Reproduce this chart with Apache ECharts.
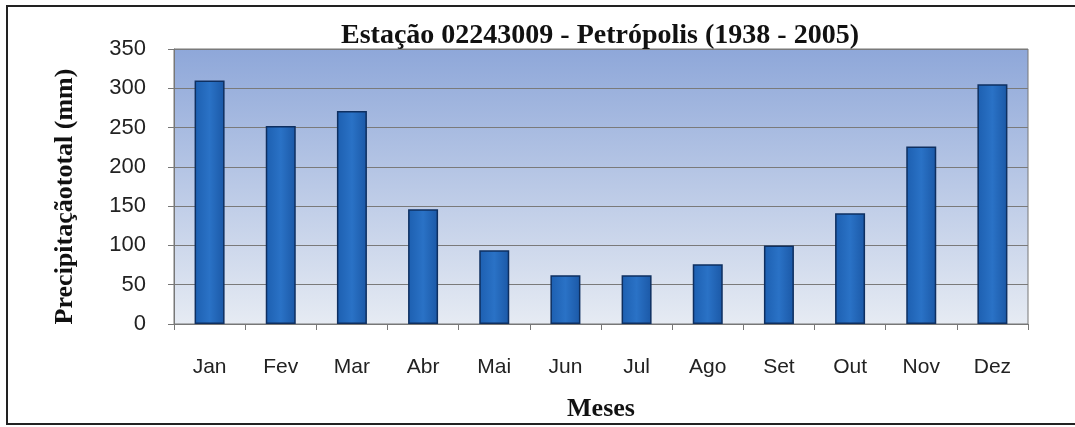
<!DOCTYPE html>
<html>
<head>
<meta charset="utf-8">
<script src="https://cdn.jsdelivr.net/npm/echarts@6/dist/echarts.min.js"></script>
<style>
  html, body { margin: 0; padding: 0; background: #fff; }
  #chart { width: 1075px; height: 427px; }
</style>
</head>
<body>
<div id="chart"></div>
<script>
'use strict'

const months = ['Jan', 'Fev', 'Mar', 'Abr', 'Mai', 'Jun', 'Jul', 'Ago', 'Set', 'Out', 'Nov', 'Dez'];
const rainfall = [310, 252, 271, 146, 94, 62, 62, 76, 100, 141, 226, 305];
const yTicks = [0, 350, 50]; // min, max, step

const chart = echarts.init(document.getElementById('chart'));

chart.setOption({
  animation: false,
  backgroundColor: '#fff',
  title: {
    text: 'Estação 02243009 - Petrópolis (1938 - 2005)',
    left: 595,
    textAlign: 'center',
    top: 17,
    textStyle: { fontFamily: 'Liberation Serif', fontWeight: 'bold', fontSize: 28, color: '#111' }
  },
  graphic: [{
    type: 'rect',
    shape: { x: 7, y: 6, width: 1100, height: 418 },
    style: { fill: 'none', stroke: '#222', lineWidth: 2 },
    z: 100
  }],
  grid: {
    left: 174, right: 47, top: 49, bottom: 103,
    outerBoundsMode: 'none',
    show: true,
    borderColor: '#777',
    borderWidth: 1,
    backgroundColor: new echarts.graphic.LinearGradient(0, 0, 0, 1, [
      { offset: 0, color: '#8ea7d9' },
      { offset: 0.5, color: '#bac9e6' },
      { offset: 1, color: '#e6ebf3' }
    ])
  },
  xAxis: {
    type: 'category',
    data: months,
    name: 'Meses',
    nameLocation: 'middle',
    nameGap: 72,
    nameTextStyle: { fontFamily: 'Liberation Serif', fontWeight: 'bold', fontSize: 26, color: '#111' },
    axisLine: { lineStyle: { color: '#777' } },
    axisTick: { show: true, length: 6, alignWithLabel: false, lineStyle: { color: '#777' } },
    axisLabel: { margin: 33, fontFamily: 'Liberation Sans', fontSize: 21, color: '#222' }
  },
  yAxis: {
    type: 'value',
    min: yTicks[0],
    max: yTicks[1],
    interval: yTicks[2],
    name: 'Precipitaçãototal (mm)',
    nameLocation: 'middle',
    nameGap: 96,
    nameTextStyle: { fontFamily: 'Liberation Serif', fontWeight: 'bold', fontSize: 26, color: '#111', padding: [0, 20, 0, 0] },
    axisLine: { show: true, lineStyle: { color: '#777' } },
    axisTick: { show: true, length: 6, lineStyle: { color: '#777' } },
    axisLabel: { margin: 28, fontFamily: 'Liberation Sans', fontSize: 22, color: '#222' },
    splitLine: { lineStyle: { color: '#7a7a7a', width: 1 } }
  },
  series: [{
    type: 'bar',
    data: rainfall,
    barWidth: 30,
    itemStyle: {
      color: new echarts.graphic.LinearGradient(0, 0, 1, 0, [
        { offset: 0, color: '#1d5fb0' },
        { offset: 0.5, color: '#2a72c6' },
        { offset: 1, color: '#1b58a6' }
      ]),
      borderColor: '#0e2f60',
      borderWidth: 1.5
    }
  }]
});
</script>
</body>
</html>
